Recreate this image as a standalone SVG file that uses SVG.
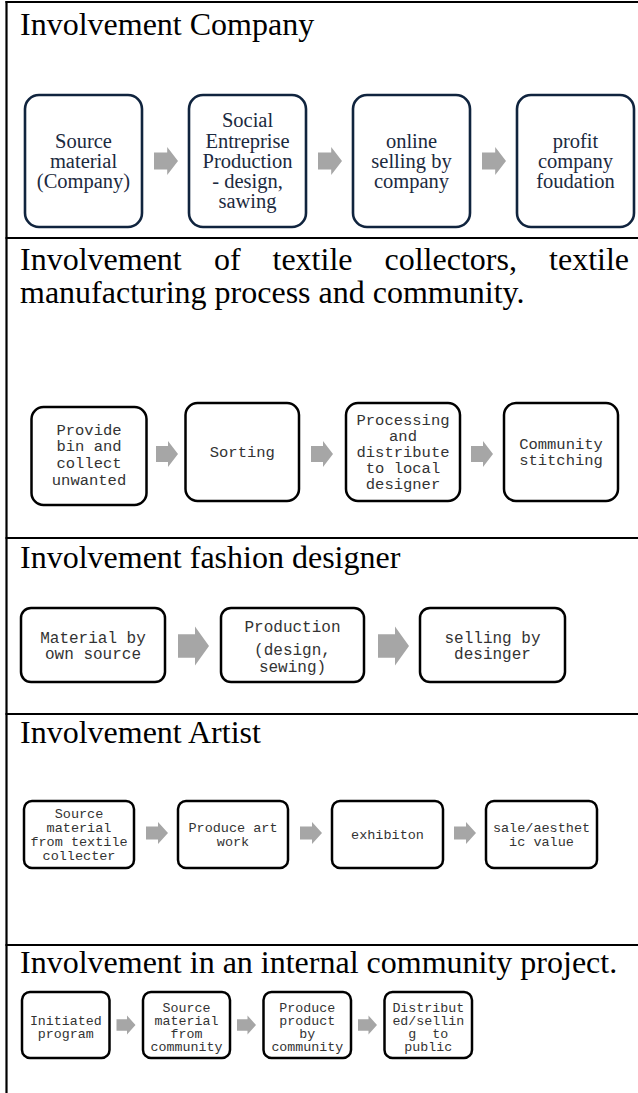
<svg xmlns="http://www.w3.org/2000/svg" width="638" height="1093" viewBox="0 0 638 1093">
<style>
.frame{stroke:#000;stroke-width:2.2;fill:none}
.title{font-family:"Liberation Serif","Times New Roman",serif;font-size:32px;fill:#000}
.b1{fill:#fff;stroke:#10243e;stroke-width:2.6}
.t1{font-family:"Liberation Serif","Times New Roman",serif;font-size:20.5px;fill:#1b2a40;text-anchor:middle}
.b2{fill:#fff;stroke:#000;stroke-width:2.5}
.m16{font-family:"Liberation Mono","Courier New",monospace;font-size:16px;fill:#333;text-anchor:middle}
.m15{font-family:"Liberation Mono","Courier New",monospace;font-size:15.5px;fill:#333;text-anchor:middle}
.m13{font-family:"Liberation Mono","Courier New",monospace;font-size:13.5px;fill:#333;text-anchor:middle}
.m14{font-family:"Liberation Mono","Courier New",monospace;font-size:13.3px;fill:#333;text-anchor:middle;white-space:pre}
.arr{fill:#a6a6a6}
</style>
<rect width="638" height="1093" fill="#fff"/>
<g id="frame">
<line class="frame" x1="5.5" y1="2" x2="638" y2="2"/>
<line class="frame" x1="6.5" y1="1" x2="6.5" y2="1093"/>
<line class="frame" x1="5.5" y1="238" x2="638" y2="238"/>
<line class="frame" x1="5.5" y1="538" x2="638" y2="538"/>
<line class="frame" x1="5.5" y1="714" x2="638" y2="714"/>
<line class="frame" x1="5.5" y1="945" x2="638" y2="945"/>
</g>
<g id="titles">
<text class="title" x="20" y="35">Involvement Company</text>
<text class="title" y="270"><tspan x="20">Involvement</tspan><tspan x="214">of</tspan><tspan x="272.5">textile</tspan><tspan x="384.5">collectors,</tspan><tspan x="629" text-anchor="end">textile</tspan></text>
<text class="title" x="20" y="303">manufacturing process and community.</text>
<text class="title" x="20" y="568">Involvement fashion designer</text>
<text class="title" x="20" y="743">Involvement Artist</text>
<text class="title" x="20" y="973">Involvement in an internal community project.</text>
</g>
<g id="connectors">
<path class="arr" d="M154,152.6 H167.2 V147 L178,161 L167.2,175 V169.4 H154 Z"/>
<path class="arr" d="M318,152.6 H331.2 V147 L342,161 L331.2,175 V169.4 H318 Z"/>
<path class="arr" d="M482,152.6 H495.2 V147 L506,161 L495.2,175 V169.4 H482 Z"/>
<path class="arr" d="M156,446 H168 V441 L178,454 L168,467 V462 H156 Z"/>
<path class="arr" d="M311,446 H323 V441 L333,454 L323,467 V462 H311 Z"/>
<path class="arr" d="M471,446 H483 V441 L493,454 L483,467 V462 H471 Z"/>
<path class="arr" d="M178,634.3 H195 V626.5 L209,646 L195,665.5 V657.7 H178 Z"/>
<path class="arr" d="M378,634.3 H395 V626.5 L409,646 L395,665.5 V657.7 H378 Z"/>
<path class="arr" d="M146,826.4 H158 V822 L168,833 L158,844 V839.6 H146 Z"/>
<path class="arr" d="M300,826.4 H312 V822 L322,833 L312,844 V839.6 H300 Z"/>
<path class="arr" d="M454,826.4 H466 V822 L476,833 L466,844 V839.6 H454 Z"/>
<path class="arr" d="M116.5,1019.3 H127 V1015.5 L135.5,1025 L127,1034.5 V1030.7 H116.5 Z"/>
<path class="arr" d="M237,1019.3 H247.5 V1015.5 L256,1025 L247.5,1034.5 V1030.7 H237 Z"/>
<path class="arr" d="M358,1019.3 H368.5 V1015.5 L377,1025 L368.5,1034.5 V1030.7 H358 Z"/>
</g>
<g id="s1n1"><rect class="b1" x="25" y="95" width="117" height="132" rx="14"/>
<text class="t1"><tspan x="83.5" y="148">Source</tspan><tspan x="83.5" y="168">material</tspan><tspan x="83.5" y="188">(Company)</tspan></text></g>
<g id="s1n2"><rect class="b1" x="189" y="95" width="117" height="132" rx="14"/>
<text class="t1"><tspan x="247.5" y="127">Social</tspan><tspan x="247.5" y="147.5">Entreprise</tspan><tspan x="247.5" y="168">Production</tspan><tspan x="247.5" y="188">- design,</tspan><tspan x="247.5" y="208">sawing</tspan></text></g>
<g id="s1n3"><rect class="b1" x="353" y="95" width="117" height="132" rx="14"/>
<text class="t1"><tspan x="411.5" y="148">online</tspan><tspan x="411.5" y="168">selling by</tspan><tspan x="411.5" y="188">company</tspan></text></g>
<g id="s1n4"><rect class="b1" x="517" y="95" width="117" height="132" rx="14"/>
<text class="t1"><tspan x="575.5" y="148">profit</tspan><tspan x="575.5" y="168">company</tspan><tspan x="575.5" y="188">foudation</tspan></text></g>

<g id="s2n1"><rect class="b2" x="31.5" y="407" width="115" height="98" rx="12"/>
<text class="m15"><tspan x="89" y="434.5">Provide</tspan><tspan x="89" y="451.3">bin and</tspan><tspan x="89" y="468.1">collect</tspan><tspan x="89" y="485">unwanted</tspan></text></g>
<g id="s2n2"><rect class="b2" x="185.5" y="403" width="113.5" height="98" rx="12"/>
<text class="m15" x="242.3" y="457">Sorting</text></g>
<g id="s2n3"><rect class="b2" x="346" y="403" width="114" height="98" rx="12"/>
<text class="m15"><tspan x="403" y="425">Processing</tspan><tspan x="403" y="441">and</tspan><tspan x="403" y="457">distribute</tspan><tspan x="403" y="473">to local</tspan><tspan x="403" y="489">designer</tspan></text></g>
<g id="s2n4"><rect class="b2" x="504" y="403" width="114" height="98" rx="12"/>
<text class="m15"><tspan x="561" y="449">Community</tspan><tspan x="561" y="465">stitching</tspan></text></g>

<g id="s3n1"><rect class="b2" x="21" y="608" width="144" height="74" rx="10"/>
<text class="m16"><tspan x="93" y="642.5">Material by</tspan><tspan x="93" y="658.5">own source</tspan></text></g>
<g id="s3n2"><rect class="b2" x="221" y="608" width="143" height="74" rx="10"/>
<text class="m16"><tspan x="292.5" y="631.5">Production</tspan><tspan x="292.5" y="654.5">(design,</tspan><tspan x="292.5" y="672">sewing)</tspan></text></g>
<g id="s3n3"><rect class="b2" x="420" y="608" width="145" height="74" rx="10"/>
<text class="m16"><tspan x="492.5" y="642.5">selling by</tspan><tspan x="492.5" y="658.5">desinger</tspan></text></g>

<g id="s4n1"><rect class="b2" x="24" y="801" width="110" height="67" rx="8"/>
<text class="m13"><tspan x="79" y="818">Source</tspan><tspan x="79" y="832">material</tspan><tspan x="79" y="846">from textile</tspan><tspan x="79" y="860">collecter</tspan></text></g>
<g id="s4n2"><rect class="b2" x="178" y="801" width="110" height="67" rx="8"/>
<text class="m13"><tspan x="233" y="832">Produce art</tspan><tspan x="233" y="845.5">work</tspan></text></g>
<g id="s4n3"><rect class="b2" x="332" y="801" width="111" height="67" rx="8"/>
<text class="m13" x="387.5" y="839">exhibiton</text></g>
<g id="s4n4"><rect class="b2" x="486" y="801" width="111" height="67" rx="8"/>
<text class="m13"><tspan x="541.5" y="832">sale/aesthet</tspan><tspan x="541.5" y="845.5">ic value</tspan></text></g>

<g id="s5n1"><rect class="b2" x="22" y="992" width="87.5" height="66" rx="8"/>
<text class="m14"><tspan x="65.8" y="1024.5">Initiated</tspan><tspan x="65.8" y="1038">program</tspan></text></g>
<g id="s5n2"><rect class="b2" x="143" y="992" width="87" height="66" rx="8"/>
<text class="m14"><tspan x="186.5" y="1011.5">Source</tspan><tspan x="186.5" y="1024.8">material</tspan><tspan x="186.5" y="1038.1">from</tspan><tspan x="186.5" y="1051.4">community</tspan></text></g>
<g id="s5n3"><rect class="b2" x="263.5" y="992" width="87.5" height="66" rx="8"/>
<text class="m14"><tspan x="307.3" y="1011.5">Produce</tspan><tspan x="307.3" y="1024.8">product</tspan><tspan x="307.3" y="1038.1">by</tspan><tspan x="307.3" y="1051.4">community</tspan></text></g>
<g id="s5n4"><rect class="b2" x="384.5" y="992" width="87.5" height="66" rx="8"/>
<text class="m14"><tspan x="428.3" y="1011.5">Distribut</tspan><tspan x="428.3" y="1024.8">ed/sellin</tspan><tspan x="428.3" y="1038.1">g  to</tspan><tspan x="428.3" y="1051.4">public</tspan></text></g>
</svg>
